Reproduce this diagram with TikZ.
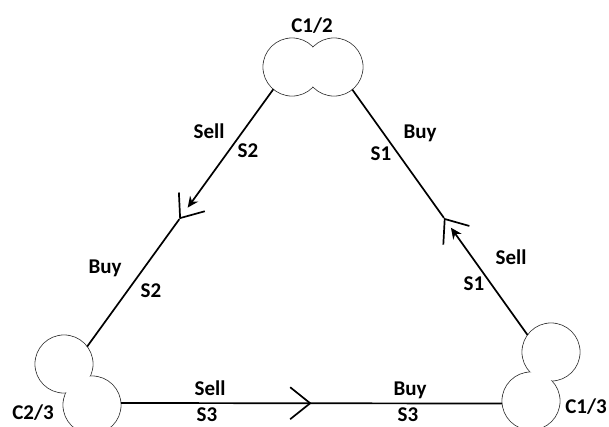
\documentclass[tikz,border=0pt]{standalone}
\usepackage{fontspec}
\setmainfont{Carlito}
\usetikzlibrary{calc,arrows.meta,decorations.markings}

\begin{document}
\begin{tikzpicture}[x=1pt,y=-1pt,
    blob/.style={circle,draw=black!75,fill=white,line width=0.8pt,minimum size=58pt,inner sep=0pt,outer sep=0pt},
    lbl/.style={font=\bfseries\fontsize{21}{24}\selectfont,anchor=base,inner sep=0pt},
    link/.style={line width=1.7pt},
    tipline/.style={link,-{Stealth[length=11pt,width=10pt]}},
    chev/.style={link,postaction={decorate},decoration={markings,mark=at position #1 with {\arrow{Straight Barb[length=20pt,width=32pt,line width=1.7pt]}}}}]
    \useasboundingbox (0,0) rectangle (609,426);
    \fill[white] (0,0) rectangle (609,426);

    % clouds, two circles each
    \node[blob] (c12a) at (292,67) {};
    \node[blob] (c12b) at (334,67) {};
    \node[blob] (c23a) at (64,364) {};
    \node[blob] (c23b) at (92,405) {};
    \node[blob] (c13a) at (551,352) {};
    \node[blob] (c13b) at (531,401) {};
    % hide the inner arcs
    \foreach \c in {c12a,c12b,c23a,c23b,c13a,c13b}
        \fill[white] (\c) circle (28.4);

    % break points on the slanted sides
    \coordinate (a1) at ($(c12a.230)!0.46!(c23a.37)$);
    \coordinate (a2) at ($(c12a.230)!0.505!(c23a.37)$);
    \coordinate (b1) at ($(c13a.144)!0.437!(c12b.309)$);
    \coordinate (b2) at ($(c13a.144)!0.477!(c12b.309)$);

    % trades
    \draw[tipline] (c12a.230) -- (a1);
    \draw[chev=0.0001] (a2) -- (c23a.37);
    \draw[chev=0.5] (c23b.4) -- (c13b.185);
    \draw[tipline] (c13a.144) -- (b1);
    \draw[chev=0.0001] (b2) -- (c12b.309);

    % labels
    \node[lbl] (n12) at (312,32) {C1/2};
    \node[lbl] (n23) at (33,419) {C2/3};
    \node[lbl] (n13) at (586,413) {C1/3};
    \node[lbl] (sell2) at (209,138) {Sell};
    \node[lbl] (s2a) at (248,157) {S2};
    \node[lbl] (buy1) at (420,138) {Buy};
    \node[lbl] (s1a) at (381,160) {S1};
    \node[lbl] (buy2) at (105,273) {Buy};
    \node[lbl] (s2b) at (151,297) {S2};
    \node[lbl] (sell1) at (511,264) {Sell};
    \node[lbl] (s1b) at (474,290) {S1};
    \node[lbl] (sell3) at (210,395) {Sell};
    \node[lbl] (s3a) at (207,421) {S3};
    \node[lbl] (buy3) at (410,395) {Buy};
    \node[lbl] (s3b) at (408,421) {S3};
\end{tikzpicture}
\end{document}
